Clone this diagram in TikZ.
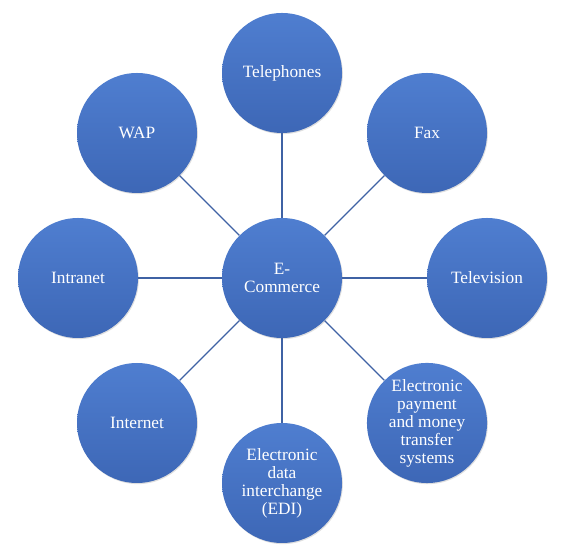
\documentclass[tikz,border=0pt]{standalone}
\usepackage{fontspec}
\setmainfont{Liberation Serif}
\newfontfamily\hubfont{Liberation Serif}
\usepackage{xcolor}
\usetikzlibrary{positioning,calc,shadows}

\definecolor{hubtop}{HTML}{4F7ED0}
\definecolor{hubbot}{HTML}{3D67B6}
\definecolor{spokeblue}{HTML}{3F62A4}

\tikzset{
    hub/.style={circle, minimum size=3cm, inner sep=1pt, top color=hubtop, bottom color=hubbot,
        draw=none, text=white, align=center,
        font=\hubfont\fontsize{12.3}{12.8}\selectfont,
        drop shadow={shadow xshift=0.6pt, shadow yshift=-0.8pt, opacity=0.25}},
    spoke/.style={draw=spokeblue, line width=0.8pt}
}

\begin{document}
\begin{tikzpicture}
    \useasboundingbox (0,0) rectangle (14.5,13.925);

    % Centre
    \node[hub] (ecom) at (7.05, 6.975) {E-\\Commerce};

    % Outer ring
    \node[hub] (phone) at (7.05, 12.1) {Telephones};
    \node[hub] (fax) at (10.675, 10.6) {Fax};
    \node[hub] (tv) at (12.175, 6.975) {Television};
    \node[hub] (pay) at (10.675, 3.35) {Electronic\\payment\\and money\\transfer\\systems};
    \node[hub] (edi) at (7.05, 1.85) {Electronic\\data\\interchange\\(EDI)};
    \node[hub] (inet) at (3.425, 3.35) {Internet};
    \node[hub] (intra) at (1.95, 6.975) {Intranet};
    \node[hub] (wap) at (3.425, 10.6) {WAP};

    % Spokes
    \draw[spoke] (ecom) -- (phone);
    \draw[spoke] (ecom) -- (fax);
    \draw[spoke] (ecom) -- (tv);
    \draw[spoke] (ecom) -- (pay);
    \draw[spoke] (ecom) -- (edi);
    \draw[spoke] (ecom) -- (inet);
    \draw[spoke] (ecom) -- (intra);
    \draw[spoke] (ecom) -- (wap);
\end{tikzpicture}
\end{document}
